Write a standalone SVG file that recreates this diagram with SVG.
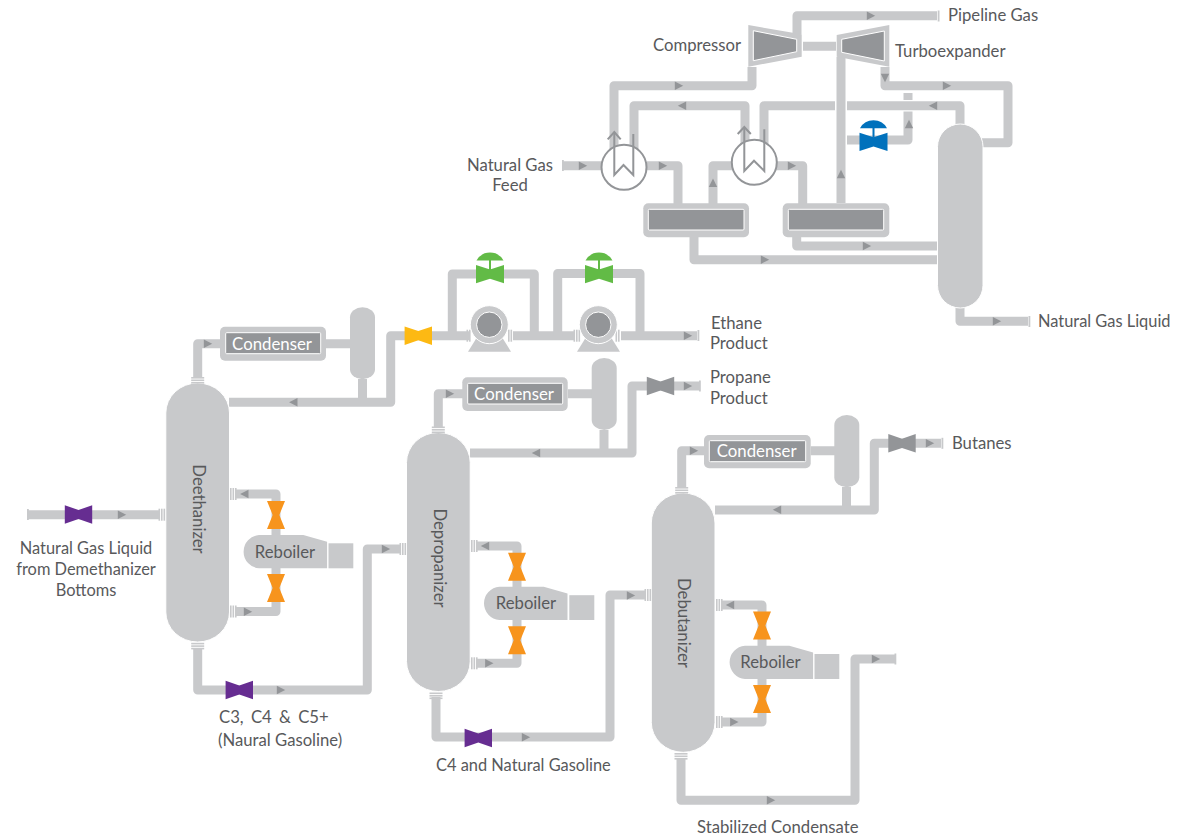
<svg xmlns="http://www.w3.org/2000/svg" xmlns:xlink="http://www.w3.org/1999/xlink" width="1192" height="839" viewBox="0 0 1192 839">
<style>
text{font-family:"Lato","Open Sans","Liberation Sans",sans-serif;font-size:16.700px;fill:#58595b}
.p{fill:none;stroke:#c8c9cb;stroke-width:9;stroke-linejoin:round}
.s{fill:#c8c9cb}
.t{fill:#c8c9cb;stroke:#fff;stroke-width:1}
.i{fill:#939598;stroke:#fff;stroke-width:1}
text.w{fill:#fff;font-size:16.800px}
text.n{font-size:16.400px}
.l{fill:none;stroke:#939598;stroke-width:2}
.e{fill:#c8c9cb}
</style>
<defs>
<path id="a" d="M-4.200-4.200L4.200 0L-4.200 4.200Z" fill="#939598"/>
<path id="bow" d="M-13.700-9.200L0-4.600L13.700-9.200V9.200L0 4.600L-13.700 9.200Z"/>
<path id="vbow" d="M-9-14H9L3.300 0L9 14H-9L-3.300 0Z" fill="#f7941d"/>
<g id="fh"><rect x="0" y="-6" width="1.600" height="12" class="e"/><rect x="2.500" y="-6" width="1.600" height="12" class="e"/><rect x="5" y="-6" width="1.600" height="12" class="e"/></g>
<g id="fv"><rect x="-6.500" y="0" width="13" height="1.600" class="e"/><rect x="-6.500" y="2.500" width="13" height="1.600" class="e"/><rect x="-6.500" y="5" width="13" height="1.600" class="e"/></g>
<g id="ctrl"><path d="M-13.500-5.500A15.500 15.500 0 0 1 13.500-5.500Z"/><rect x="-1" y="-6" width="2" height="10"/><path d="M-14-1L0 3.500L14-1V17.300L0 12.800L-14 17.300Z"/></g>
<path id="reb" d="M16.700 0H61L84.800 6.700V33.300H16.700A16.700 16.700 0 0 1 16.700 0Z" class="s"/>
<g id="pump"><path d="M-21.300 27H21.700L12.400 12H-12Z" class="s"/><circle r="19" class="t"/><circle r="12.700" class="i"/></g>
</defs>

<g id="connectors">
<path class="p" d="M797 34V15.700H937"/>
<path class="p" d="M803 46.200H836"/>
<path class="p" d="M752 67V85.700H614V150"/>
<path class="p" d="M634 150V105.700H745V145"/>
<path class="p" d="M764 145V105.700H835M847 105.700H960V125"/>
<path class="p" d="M841 203V57"/>
<path class="p" d="M885 67V85.700H1008V142.700H982"/>
<path class="p" d="M847 140H908V111.500M908 93V100"/>
<path class="p" d="M563 165.700H602M647 165.700H678V204"/>
<path class="p" d="M713 204V165.700H733M776 165.700H802.700V204"/>
<path class="p" d="M694 237V259.700H938"/>
<path class="p" d="M796.700 237V246H938"/>
<path class="p" d="M960 307V321.300H1028"/>
<path class="p" d="M197.700 378V343.700H220M326 343.700H350"/>
<path class="p" d="M229 402.300H390.700V335.700H470"/>
<path class="p" d="M362.500 379V402"/>
<path class="p" d="M452.300 335.700V274H534.300V335.700"/>
<path class="p" d="M513 335.700H574"/>
<path class="p" d="M557.700 335.700V273.500H640V335.700"/>
<path class="p" d="M621 335.700H697"/>
<path class="p" d="M438.300 427V393.700H463M568 393.700H592"/>
<path class="p" d="M470 453H632V386H699"/>
<path class="p" d="M604 430V453"/>
<path class="p" d="M681.700 488V450.700H705M810.700 450.700H835"/>
<path class="p" d="M715 510H874.300V443.300H941"/>
<path class="p" d="M846.500 487V510"/>
<path class="p" d="M28 514.700H159"/>
<path class="p" d="M236 494H276V536"/>
<path class="p" d="M276 567V611.500H236"/>
<path class="p" d="M197.700 648V690H367.300V549H400"/>
<path class="p" d="M477 546H517V587"/>
<path class="p" d="M517 618V663.300H477"/>
<path class="p" d="M436 697V737H610V595H645"/>
<path class="p" d="M722 605H762V647"/>
<path class="p" d="M762 678V722H722"/>
<path class="p" d="M681 758V800.300H855V659H895"/>
<rect class="e" x="937.700" y="10.500" width="1.800" height="11"/>
<rect class="e" x="562" y="160" width="1.800" height="11"/>
<rect class="e" x="1028.500" y="316" width="1.800" height="11"/>
<rect class="e" x="697.500" y="330" width="1.800" height="11"/>
<rect class="e" x="699" y="380.500" width="1.800" height="11"/>
<rect class="e" x="941.500" y="437.800" width="1.800" height="11"/>
<rect class="e" x="27" y="509" width="1.800" height="11"/>
<rect class="e" x="894.500" y="653.500" width="1.800" height="11"/>
<use href="#a" xlink:href="#a" transform="translate(871 15.700)"/>
<use href="#a" xlink:href="#a" transform="translate(679 85.700)"/>
<use href="#a" xlink:href="#a" transform="translate(682 105.700) rotate(180)"/>
<use href="#a" xlink:href="#a" transform="translate(933 105.700) rotate(180)"/>
<use href="#a" xlink:href="#a" transform="translate(885 78) rotate(90)"/>
<use href="#a" xlink:href="#a" transform="translate(947 85.700)"/>
<use href="#a" xlink:href="#a" transform="translate(909 124) rotate(-90)"/>
<use href="#a" xlink:href="#a" transform="translate(841 174) rotate(-90)"/>
<use href="#a" xlink:href="#a" transform="translate(583 165.700)"/>
<use href="#a" xlink:href="#a" transform="translate(663 165.700)"/>
<use href="#a" xlink:href="#a" transform="translate(713 182.700) rotate(-90)"/>
<use href="#a" xlink:href="#a" transform="translate(792 165.700)"/>
<use href="#a" xlink:href="#a" transform="translate(765 259.700)"/>
<use href="#a" xlink:href="#a" transform="translate(867 246)"/>
<use href="#a" xlink:href="#a" transform="translate(997 321.300)"/>
<use href="#a" xlink:href="#a" transform="translate(208 343.700)"/>
<use href="#a" xlink:href="#a" transform="translate(293.300 402.300) rotate(180)"/>
<use href="#a" xlink:href="#a" transform="translate(688 335.700)"/>
<use href="#a" xlink:href="#a" transform="translate(450 393.700)"/>
<use href="#a" xlink:href="#a" transform="translate(536 453) rotate(180)"/>
<use href="#a" xlink:href="#a" transform="translate(688 386)"/>
<use href="#a" xlink:href="#a" transform="translate(694 450.700)"/>
<use href="#a" xlink:href="#a" transform="translate(777 509.700) rotate(180)"/>
<use href="#a" xlink:href="#a" transform="translate(930 443.300)"/>
<use href="#a" xlink:href="#a" transform="translate(122 514.700)"/>
<use href="#a" xlink:href="#a" transform="translate(244.300 494) rotate(180)"/>
<use href="#a" xlink:href="#a" transform="translate(248 611.700)"/>
<use href="#a" xlink:href="#a" transform="translate(281 690)"/>
<use href="#a" xlink:href="#a" transform="translate(386 549)"/>
<use href="#a" xlink:href="#a" transform="translate(485 546) rotate(180)"/>
<use href="#a" xlink:href="#a" transform="translate(489.300 663.300)"/>
<use href="#a" xlink:href="#a" transform="translate(526 737.300)"/>
<use href="#a" xlink:href="#a" transform="translate(631 595.500)"/>
<use href="#a" xlink:href="#a" transform="translate(730 605) rotate(180)"/>
<use href="#a" xlink:href="#a" transform="translate(734.300 722)"/>
<use href="#a" xlink:href="#a" transform="translate(771 800.300)"/>
<use href="#a" xlink:href="#a" transform="translate(876 659)"/>
</g>

<g id="compressor">
<path class="s" d="M748.300 25L801.700 34.300V56.700L748.300 66.700Z"/>
<path class="i" d="M753.300 30.700L796.700 39.300V51.700L753.300 60.700Z"/>
<text x="653" y="51">Compressor</text>
</g>
<g id="turboexpander">
<path class="s" d="M836.700 35L889.300 25V66.700L836.700 56.700Z"/>
<path class="i" d="M841.700 39.300L884.300 31V61L841.700 52.300Z"/>
<text x="895" y="57">Turboexpander</text>
</g>
<g id="pipeline-gas"><text x="948" y="21">Pipeline Gas</text></g>
<g id="feed"><text x="510" y="171" text-anchor="middle">Natural Gas</text><text x="510" y="191" text-anchor="middle">Feed</text></g>

<g id="exchanger-1">
<circle cx="624" cy="167.300" r="22.500" fill="#fff" stroke="#939598" stroke-width="2"/>
<path class="l" d="M614.300 132V175L623.500 165L633.300 175V134"/>
<path class="l" d="M607.700 139.300L614.300 132L620.700 139.300"/>
</g>
<g id="exchanger-2">
<circle cx="754.300" cy="162.300" r="22.500" fill="#fff" stroke="#939598" stroke-width="2"/>
<path class="l" d="M744.300 127V171L754 160.700L764.300 171V129.300"/>
<path class="l" d="M737.700 134L744.300 127L750.800 134"/>
</g>
<g id="separator-1">
<rect class="s" x="643.300" y="203.300" width="105.700" height="34" rx="5"/>
<rect class="i" x="648.300" y="209.300" width="95.700" height="20.700" rx="1"/>
</g>
<g id="separator-2">
<rect class="s" x="782.700" y="203.300" width="106.600" height="34" rx="5"/>
<rect class="i" x="788.300" y="209.300" width="95.400" height="20.700" rx="1"/>
</g>
<g id="blue-valve" fill="#0071bc"><use href="#ctrl" xlink:href="#ctrl" transform="translate(873.500 133.700)"/></g>
<g id="tower-top">
<rect class="t" x="937.500" y="124" width="45.500" height="184" rx="22.700"/>
</g>
<g id="natural-gas-liquid"><text class="n" x="1038" y="327">Natural Gas Liquid</text></g>

<g id="deethanizer">
<rect class="t" x="165.800" y="383" width="63.700" height="259" rx="32" ry="30"/>
<use href="#fv" xlink:href="#fv" transform="translate(197.700 377)"/>
<use href="#fv" xlink:href="#fv" transform="translate(197.700 642.800)"/>
<use href="#fh" xlink:href="#fh" transform="translate(158.500 514.700)"/>
<use href="#fh" xlink:href="#fh" transform="translate(230 494)"/>
<use href="#fh" xlink:href="#fh" transform="translate(230 611.500)"/>
<text transform="translate(193 509) rotate(90)" text-anchor="middle">Deethanizer</text>
</g>
<g id="condenser-1">
<rect class="s" x="220" y="326.700" width="106" height="34" rx="5"/>
<rect class="i" x="225.700" y="332.700" width="95" height="21" rx="1"/>
<text class="w" x="272" y="349.500" text-anchor="middle">Condenser</text>
</g>
<g id="drum-1"><rect class="s" x="350" y="307.300" width="25" height="72" rx="12.500" ry="10"/></g>
<g id="valve-yellow" fill="#fdb913"><use href="#bow" xlink:href="#bow" transform="translate(418.300 335.700)"/></g>
<g id="pump-1">
<rect class="e" x="466.500" y="329.700" width="1.600" height="12"/><rect class="e" x="469" y="329.700" width="1.600" height="12"/>
<rect class="e" x="508" y="329.700" width="1.600" height="12"/><rect class="e" x="510.500" y="329.700" width="1.600" height="12"/>
<use href="#pump" xlink:href="#pump" transform="translate(489.300 324.700)"/>
</g>
<g id="pump-2">
<rect class="e" x="573.500" y="329.700" width="1.600" height="12"/><rect class="e" x="576" y="329.700" width="1.600" height="12"/><rect class="e" x="578.500" y="329.700" width="1.600" height="12"/>
<rect class="e" x="615.500" y="329.700" width="1.600" height="12"/><rect class="e" x="618" y="329.700" width="1.600" height="12"/>
<use href="#pump" xlink:href="#pump" transform="translate(598.300 324.700)"/>
</g>
<g id="green-valve-1" fill="#62bb46"><use href="#ctrl" xlink:href="#ctrl" transform="translate(490 266)"/></g>
<g id="green-valve-2" fill="#62bb46"><use href="#ctrl" xlink:href="#ctrl" transform="translate(599 266)"/></g>
<g id="ethane"><text x="711" y="329">Ethane</text><text x="710" y="349">Product</text></g>
<g id="feed-label"><text class="n" x="86" y="554" text-anchor="middle">Natural Gas Liquid</text><text class="n" x="86" y="575" text-anchor="middle">from Demethanizer</text><text class="n" x="86" y="596" text-anchor="middle">Bottoms</text></g>
<g id="valve-purple-1" fill="#662d91"><use href="#bow" xlink:href="#bow" transform="translate(78.500 514.500)"/></g>
<g id="reboiler-1">
<use href="#vbow" xlink:href="#vbow" transform="translate(276 515)"/>
<use href="#vbow" xlink:href="#vbow" transform="translate(276 588)"/>
<use href="#reb" xlink:href="#reb" transform="translate(242.300 535)"/>
<rect class="s" x="328.500" y="543.300" width="24.800" height="25"/>
<text x="285" y="557.500" text-anchor="middle">Reboiler</text>
</g>
<g id="valve-purple-2" fill="#662d91"><use href="#bow" xlink:href="#bow" transform="translate(239.300 690)"/></g>
<g id="c3-label"><text x="219" y="723" word-spacing="3">C3, C4 &amp; C5+</text><text x="218" y="746">(Naural Gasoline)</text></g>

<g id="depropanizer">
<rect class="t" x="406.500" y="432.500" width="63.700" height="259" rx="32" ry="30"/>
<use href="#fv" xlink:href="#fv" transform="translate(438.300 426.500)"/>
<use href="#fv" xlink:href="#fv" transform="translate(436 692.500)"/>
<use href="#fh" xlink:href="#fh" transform="translate(399.500 549)"/>
<use href="#fh" xlink:href="#fh" transform="translate(471 546)"/>
<use href="#fh" xlink:href="#fh" transform="translate(471 663.300)"/>
<text transform="translate(434 558) rotate(90)" text-anchor="middle">Depropanizer</text>
</g>
<g id="condenser-2">
<rect class="s" x="462.300" y="377.300" width="105.400" height="33.700" rx="5"/>
<rect class="i" x="467.700" y="383.300" width="95" height="20.700" rx="1"/>
<text class="w" x="514" y="399.500" text-anchor="middle">Condenser</text>
</g>
<g id="drum-2"><rect class="s" x="591.700" y="358" width="25" height="72" rx="12.500" ry="10"/></g>
<g id="valve-gray-1" fill="#939598"><use href="#bow" xlink:href="#bow" transform="translate(660.500 386)"/></g>
<g id="propane"><text x="710" y="383">Propane</text><text x="710" y="404">Product</text></g>
<g id="reboiler-2">
<use href="#vbow" xlink:href="#vbow" transform="translate(517 566.700)"/>
<use href="#vbow" xlink:href="#vbow" transform="translate(517 640.300)"/>
<use href="#reb" xlink:href="#reb" transform="translate(482.700 586.700)"/>
<rect class="s" x="569.300" y="595.200" width="25" height="24.800"/>
<text x="526" y="608.500" text-anchor="middle">Reboiler</text>
</g>
<g id="valve-purple-3" fill="#662d91"><use href="#bow" xlink:href="#bow" transform="translate(478.300 738)"/></g>
<g id="c4-label"><text class="n" x="436" y="771">C4 and Natural Gasoline</text></g>

<g id="debutanizer">
<rect class="t" x="651.300" y="493" width="63.700" height="259.300" rx="32" ry="30"/>
<use href="#fv" xlink:href="#fv" transform="translate(681.700 487)"/>
<use href="#fv" xlink:href="#fv" transform="translate(681 753)"/>
<use href="#fh" xlink:href="#fh" transform="translate(644.500 595)"/>
<use href="#fh" xlink:href="#fh" transform="translate(716 605)"/>
<use href="#fh" xlink:href="#fh" transform="translate(716 722)"/>
<text transform="translate(678 623) rotate(90)" text-anchor="middle">Debutanizer</text>
</g>
<g id="condenser-3">
<rect class="s" x="704" y="435" width="106.700" height="33.300" rx="5"/>
<rect class="i" x="709.300" y="440.700" width="96.400" height="21" rx="1"/>
<text class="w" x="756.700" y="456.700" text-anchor="middle">Condenser</text>
</g>
<g id="drum-3"><rect class="s" x="834.300" y="415" width="25" height="72.300" rx="12.500" ry="10"/></g>
<g id="valve-gray-2" fill="#939598"><use href="#bow" xlink:href="#bow" transform="translate(902 443.300)"/></g>
<g id="butanes"><text x="952" y="449">Butanes</text></g>
<g id="reboiler-3">
<use href="#vbow" xlink:href="#vbow" transform="translate(762 625.500)"/>
<use href="#vbow" xlink:href="#vbow" transform="translate(762 699)"/>
<use href="#reb" xlink:href="#reb" transform="translate(728.300 645.700)"/>
<rect class="s" x="814.500" y="654" width="24.800" height="25"/>
<text x="770.500" y="668" text-anchor="middle">Reboiler</text>
</g>
<g id="condensate-label"><text x="697" y="833">Stabilized Condensate</text></g>
</svg>
